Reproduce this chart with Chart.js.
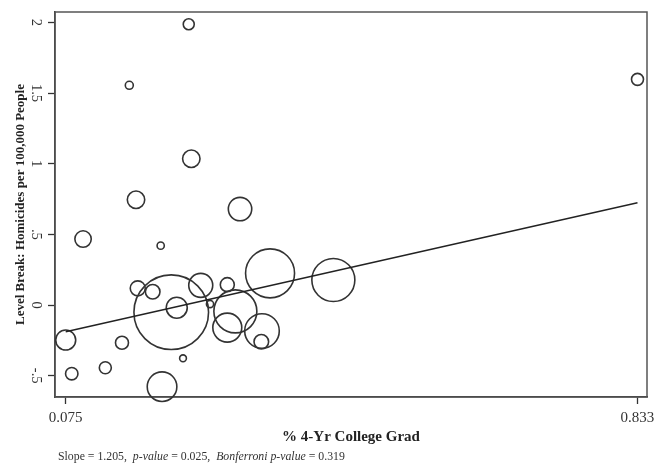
<!DOCTYPE html>
<html>
<head>
<meta charset="utf-8">
<title>Level Break vs % 4-Yr College Grad</title>
<script src="https://cdn.jsdelivr.net/npm/chart.js@4/dist/chart.umd.min.js"></script>
<style>
  html, body { margin: 0; padding: 0; background: #fff; }
  canvas { display: block; }
</style>
</head>
<body>
<canvas id="chart" width="670" height="467"></canvas>
<script>
// Share of adults holding a 4-year degree, one entry per place
const collegeGrad = [0.075, 0.083, 0.098, 0.1275, 0.1496, 0.1593, 0.1682, 0.1705, 0.1903,
  0.2009, 0.2027, 0.2149, 0.2222, 0.2305, 0.2381, 0.2415, 0.254, 0.2663, 0.2892, 0.2892,
  0.2999, 0.3061, 0.3343, 0.3352, 0.3459, 0.4298, 0.833];
// Estimated level break in homicides per 100,000 people
const levelBreak = [-0.248, -0.486, 0.467, -0.444, -0.267, 1.555, 0.745, 0.118, 0.094,
  0.42, -0.578, -0.051, -0.019, -0.377, 1.987, 1.035, 0.139, 0.007, 0.144, -0.16,
  -0.045, 0.679, -0.26, -0.184, 0.224, 0.177, 1.597];
// Regression weights (population), marker area follows the weight
const popWeight = [6.25, 2.4, 4.2, 2.25, 2.64, 1.0, 4.73, 3.52, 3.33,
  0.81, 13.7, 87.0, 6.9, 0.72, 1.89, 4.73, 9.0, 0.81, 3.06, 13.1,
  28.9, 8.56, 3.33, 18.7, 37.5, 28.9, 2.25];

// Weighted fit line, evaluated at the ends of the data range
const fitX = [0.075, 0.833];
const fitY = [-0.189, 0.724];

const yTicks = [-0.5, 0, 0.5, 1, 1.5, 2];
const yTickLabels = ['-.5', '0', '.5', '1', '1.5', '2'];
const xTicks = [0.075, 0.833];
const xTickLabels = ['0.075', '0.833'];

const footnoteParts = [
  { text: 'Slope = 1.205,  ', italic: false },
  { text: 'p-value', italic: true },
  { text: ' = 0.025,  ', italic: false },
  { text: 'Bonferroni p-value', italic: true },
  { text: ' = 0.319', italic: false }
];

const SERIF = '"Liberation Serif", "Times New Roman", serif';
const INK = '#333333';

const bubbles = collegeGrad.map((x, i) => ({ x: x, y: levelBreak[i], r: 4 * Math.sqrt(popWeight[i]) }));
const fitLine = fitX.map((x, i) => ({ x: x, y: fitY[i] }));

// Scales keep exactly the room they are given
function fixSize(prop, size) {
  return s => {
    s[prop] = size;
    s.paddingTop = 0; s.paddingBottom = 0; s.paddingLeft = 0; s.paddingRight = 0;
  };
}

// Box round the plot region and the stats line under the axis title
const framePlugin = {
  id: 'frame',
  beforeDatasetsDraw(chart) {
    const { ctx, chartArea: a } = chart;
    ctx.save();
    ctx.strokeStyle = '#555';
    ctx.lineWidth = 1.5;
    ctx.strokeRect(a.left, a.top, a.right - a.left, a.bottom - a.top);
    ctx.restore();
  },
  afterDraw(chart) {
    const ctx = chart.ctx;
    ctx.save();
    ctx.fillStyle = INK;
    ctx.textBaseline = 'middle';
    let x = 58;
    const y = 457;
    footnoteParts.forEach(p => {
      ctx.font = (p.italic ? 'italic ' : '') + '11.8px ' + SERIF;
      ctx.fillText(p.text, x, y);
      x += ctx.measureText(p.text).width;
    });
    ctx.restore();
  }
};

new Chart(document.getElementById('chart'), {
  data: {
    datasets: [
      {
        type: 'bubble',
        data: bubbles,
        backgroundColor: 'rgba(0,0,0,0)',
        borderColor: INK,
        borderWidth: 1.6,
        hoverBorderWidth: 1.6,
        clip: false,
        order: 2
      },
      {
        type: 'line',
        data: fitLine,
        borderColor: '#222',
        borderWidth: 1.4,
        pointRadius: 0,
        fill: false,
        order: 1
      }
    ]
  },
  options: {
    responsive: false,
    animation: false,
    events: [],
    layout: { autoPadding: false, padding: { top: 12, right: 23, bottom: 0, left: 0 } },
    plugins: { legend: { display: false }, tooltip: { enabled: false } },
    scales: {
      x: {
        type: 'linear',
        min: 0.0608,
        max: 0.8456,
        afterBuildTicks: s => { s.ticks = xTicks.map(v => ({ value: v })); },
        afterFit: fixSize('height', 70),
        grid: { display: true, drawOnChartArea: false, drawTicks: true, tickLength: 7, tickColor: INK, tickWidth: 1.3 },
        border: { display: true, color: INK, width: 1.5 },
        ticks: {
          color: INK,
          font: { family: SERIF, size: 15 },
          padding: 5,
          maxRotation: 0,
          autoSkip: false,
          callback: (v, i) => xTickLabels[i]
        },
        title: {
          display: true,
          text: '% 4-Yr College Grad',
          color: '#222',
          font: { family: SERIF, size: 15, weight: 'bold' },
          padding: { top: 0, bottom: 21 }
        }
      },
      y: {
        type: 'linear',
        min: -0.651,
        max: 2.0736,
        afterBuildTicks: s => { s.ticks = yTicks.map(v => ({ value: v })); },
        afterFit: fixSize('width', 55),
        grid: { display: true, drawOnChartArea: false, drawTicks: true, tickLength: 7, tickColor: INK, tickWidth: 1.3 },
        border: { display: true, color: INK, width: 1.5 },
        ticks: {
          color: INK,
          font: { family: SERIF, size: 14.5 },
          padding: 3,
          minRotation: -90,
          maxRotation: -90,
          crossAlign: 'center',
          autoSkip: false,
          callback: (v, i) => yTickLabels[i]
        },
        title: {
          display: true,
          text: 'Level Break: Homicides per 100,000 People',
          color: '#222',
          font: { family: SERIF, size: 13, weight: 'bold' },
          padding: { top: 12.5, bottom: 0 }
        }
      }
    }
  },
  plugins: [framePlugin]
});
</script>
</body>
</html>
